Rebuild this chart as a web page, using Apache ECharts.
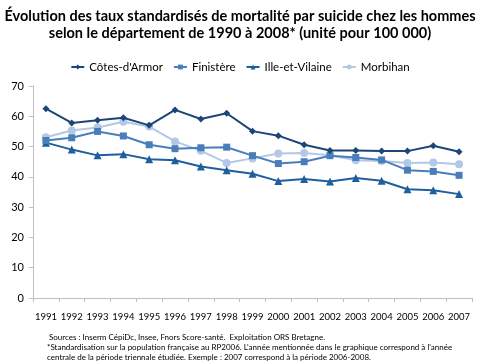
<!DOCTYPE html>
<html><head><meta charset="utf-8">
<script src="https://cdn.jsdelivr.net/npm/echarts@6/dist/echarts.min.js"></script>
<style>html,body{margin:0;padding:0;background:#fff}#c{width:480px;height:364px}</style>
</head><body><div id="c"></div>
<script>
const years = ['1991','1992','1993','1994','1995','1996','1997','1998','1999','2000','2001','2002','2003','2004','2005','2006','2007'];
const cotesArmor = [62.5,57.8,58.7,59.5,57.0,62.1,59.1,61.0,55.1,53.6,50.6,48.7,48.7,48.5,48.5,50.3,48.3];
const finistere = [52.0,52.9,55.0,53.5,50.6,49.3,49.6,49.8,47.0,44.4,45.0,47.0,46.4,45.6,42.2,41.8,40.5];
const illeEtVilaine = [51.3,49.0,47.1,47.5,45.8,45.5,43.4,42.2,41.0,38.6,39.3,38.5,39.6,38.7,35.9,35.6,34.3];
const morbihan = [53.1,55.3,56.3,58.2,56.6,51.7,48.6,44.6,46.1,47.7,47.9,47.1,45.5,45.2,44.6,44.7,44.2];
const seriesNames = ["Côtes-d'Armor","Finistère","Ille-et-Vilaine","Morbihan"];
const titleLines = ["Évolution des taux standardisés de mortalité par suicide chez les hommes","selon le département de 1990 à 2008* (unité pour 100 000)"];
const footLines = ["Sources : Inserm CépiDc, Insee, Fnors Score-santé.  Exploitation ORS Bretagne.",
"*Standardisation sur la population française au RP2006. L'année mentionnée dans le graphique correspond à l'année",
"centrale de la période triennale étudiée. Exemple : 2007 correspond à la période 2006-2008."];

const F = 'Lato, "Open Sans", sans-serif';
const colors = ['#1B4677','#4A7EBB','#1F5F9E','#B3C8E6'];
const symbols = ['diamond','rect','triangle','circle'];
const sizes = [7,7,8,8];
const data = [cotesArmor, finistere, illeEtVilaine, morbihan];

const chart = echarts.init(document.getElementById('c'), null, {renderer:'canvas'});
chart.setOption({
  animation:false,
  title:{text:titleLines.join('\n'), left:'center', top:3,
    textStyle:{fontFamily:F, fontSize:14.5, fontWeight:'bold', color:'#000', lineHeight:17}},
  legend:{top:56, left:'center', itemWidth:13, itemHeight:6, itemGap:10,
    textStyle:{fontFamily:F, fontSize:11.5, color:'#000'}, data:seriesNames},
  grid:{left:33, right:8, top:86, bottom:66},
  xAxis:{type:'category', data:years, boundaryGap:true,
    axisLine:{lineStyle:{color:'#BFBFBF'}},
    axisTick:{show:true, length:4, lineStyle:{color:'#BFBFBF'}},
    axisLabel:{interval:0, fontFamily:F, fontSize:9.5, color:'#000', margin:14}},
  yAxis:{type:'value', min:0, max:70, interval:10,
    axisLine:{show:true, lineStyle:{color:'#BFBFBF'}},
    axisTick:{show:true, length:4, lineStyle:{color:'#BFBFBF'}},
    splitLine:{show:false},
    axisLabel:{fontFamily:F, fontSize:11, color:'#000', margin:9}},
  series: seriesNames.map((n,i)=>({
    name:n, type:'line', data:data[i], symbol:symbols[i], symbolSize:sizes[i],
    showSymbol:true, lineStyle:{width:2, color:colors[i]},
    itemStyle:{color:colors[i]}, z: 10-i
  })),
  graphic: footLines.map((t,i)=>({type:'text', left:i===0?49:47, top:333+i*10,
    style:{text:t, font:'8px '+F, fill:'#000'}}))
});
</script></body></html>
